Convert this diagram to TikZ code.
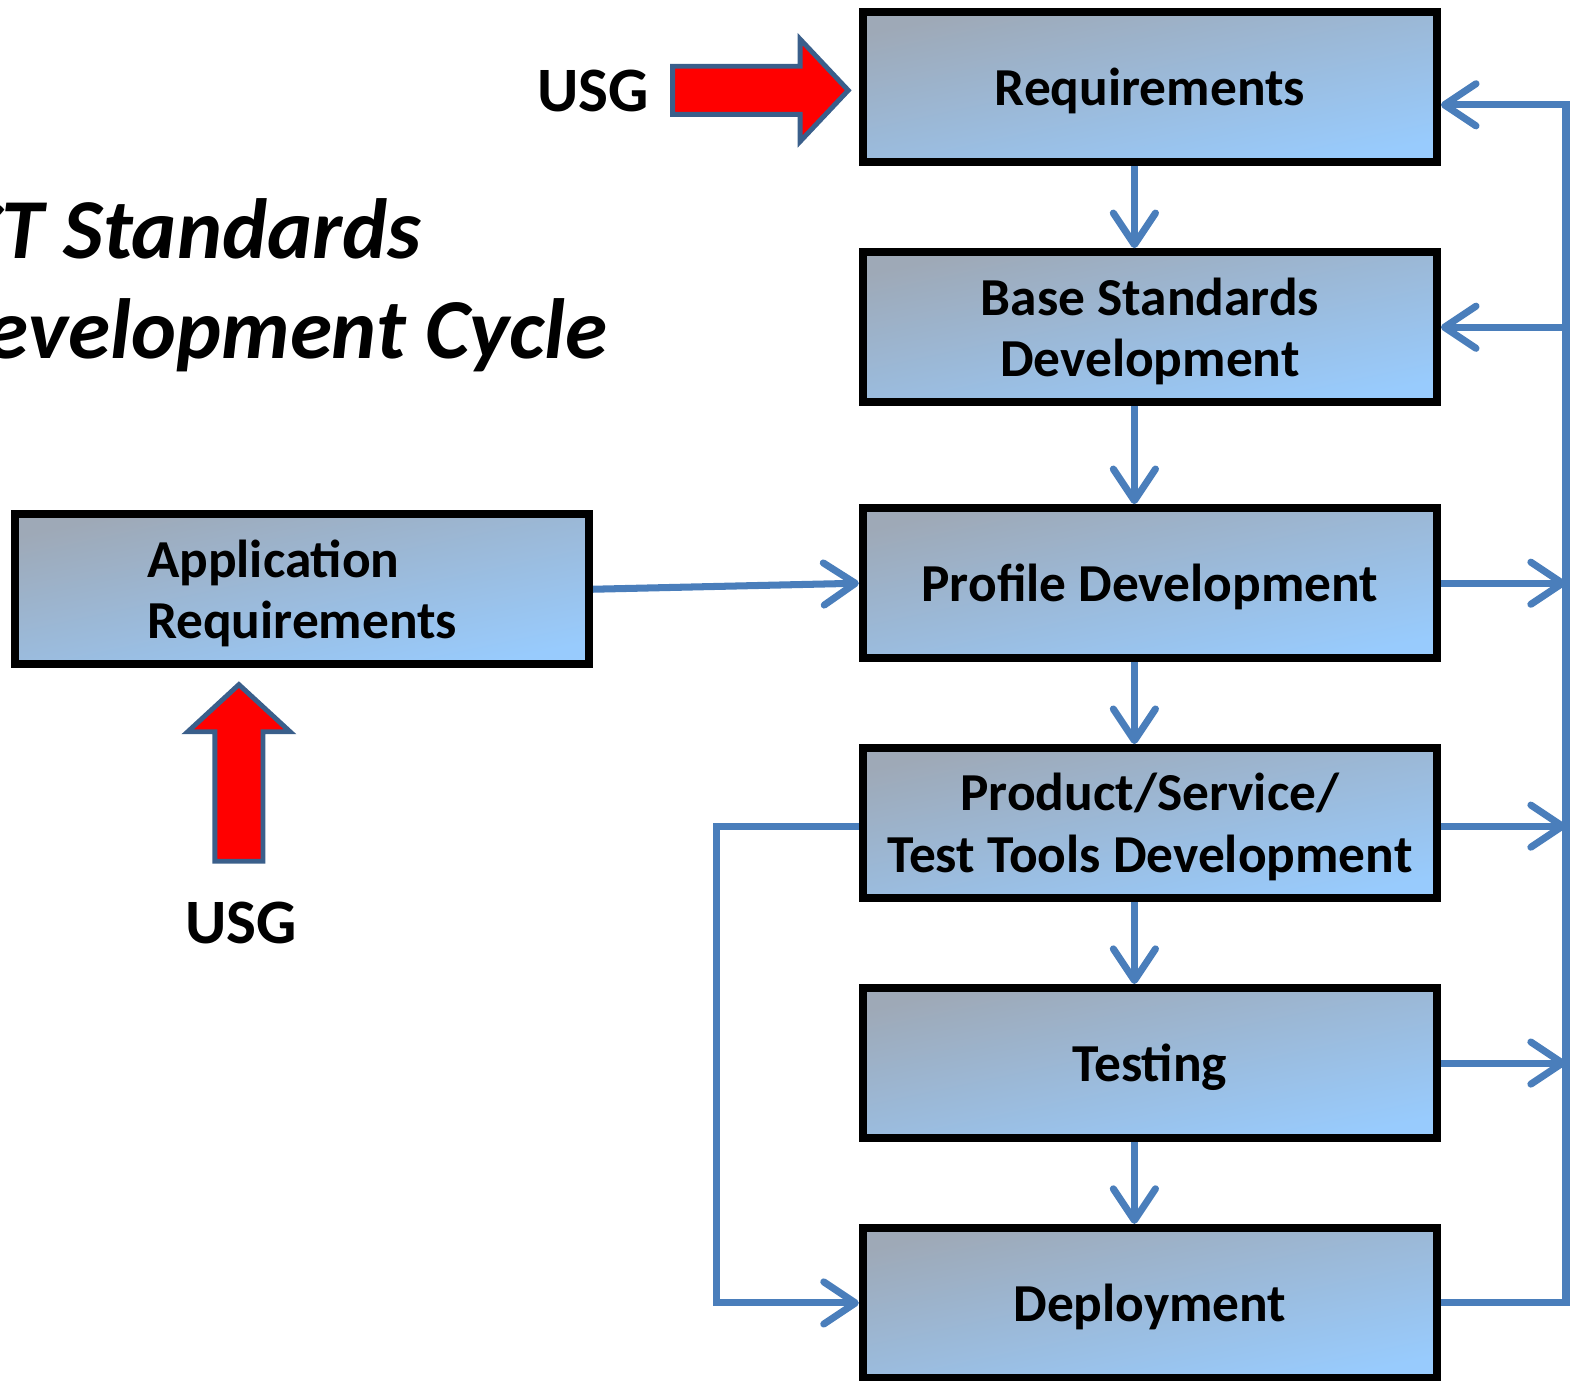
\documentclass[tikz,border=0pt]{standalone}
\usepackage{fontspec}
\setmainfont{Carlito}
\usetikzlibrary{arrows.meta}
\definecolor{linkblue}{HTML}{4A7EBB}
\definecolor{usgedge}{HTML}{3A5F8B}
\definecolor{boxgray}{HTML}{9EA9B7}
\definecolor{boxblue}{HTML}{98CBFD}
\tikzset{
  stage/.style={draw=black, line width=2.3pt, top color=boxgray, bottom color=boxblue, shading angle=12,
    minimum width=5.74cm, minimum height=1.50cm, inner sep=0pt, align=center, text depth=0pt,
    font=\fontsize{15.2}{17.6}\selectfont\bfseries},
  link/.style={draw=linkblue, line width=2pt, -{Straight Barb[length=9pt,width=12pt,round]}},
  usg/.style={inner sep=0pt, font=\fontsize{18}{20}\selectfont\bfseries},
  usgarrow/.style={draw=usgedge, line width=1.4pt, fill=red, line join=miter},
  heading/.style={inner sep=0pt, font=\fontsize{24.3}{28}\selectfont\bfseries\itshape}
}
\begin{document}
\begin{tikzpicture}[x=0.010038cm, y=-0.010038cm]
\useasboundingbox (0,0) rectangle (1568,1375);
\begin{scope}
\clip (0,0) rectangle (1568,1375);
\node[heading, anchor=base east] (headA) at (420,258) {ICT Standards};
\node[heading, anchor=base east] (headB) at (606,357) {Development Cycle};
\end{scope}
\node[stage] (req) at (1145.5,86.5) {Requirements};
\node[stage] (base) at (1145.5,326) {Base Standards\\Development};
\node[stage] (prof) at (1145.5,581) {Profile Development};
\node[stage] (prod) at (1145.5,820) {Product/Service/\\Test Tools Development};
\node[stage] (test) at (1145.5,1059) {Testing};
\node[stage] (dep) at (1145.5,1298) {Deployment};
\node[stage, align=left] (app) at (301,587) {Application\\Requirements};
\node[usg] (usgA) at (591,91) {USG};
\node[usg] (usgB) at (240,919) {USG};
\coordinate (rail) at (1560,0);
\draw[usgarrow] (670,66) -- (797,66) -- (797,39) -- (845,90) -- (797,141) -- (797,114) -- (670,114) -- cycle;
\draw[usgarrow] (214,858) -- (214,729) -- (187,729) -- (238,682) -- (289,729) -- (262,729) -- (262,858) -- cycle;
\draw[link] ([xshift=-0.155cm]req.south) -- ([xshift=-0.155cm]base.north);
\draw[link] ([xshift=-0.155cm]base.south) -- ([xshift=-0.155cm]prof.north);
\draw[link] ([xshift=-0.155cm]prof.south) -- ([xshift=-0.155cm]prod.north);
\draw[link] ([xshift=-0.155cm]prod.south) -- ([xshift=-0.155cm]test.north);
\draw[link] ([xshift=-0.155cm]test.south) -- ([xshift=-0.155cm]dep.north);
\draw[link] (app.east) -- (prof.west);
\draw[link] (dep.east) -- (dep.east -| rail) |- ([yshift=-0.18cm]req.east);
\draw[link] (base.east -| rail) -- (base.east);
\draw[link] (prof.east) -- (prof.east -| rail);
\draw[link] ([yshift=-0.03cm]prod.east) -- ([yshift=-0.03cm]prod.east -| rail);
\draw[link] (test.east) -- (test.east -| rail);
\draw[link] ([yshift=-0.03cm]prod.west) -- ++(-142,0) |- (dep.west);
\end{tikzpicture}
\end{document}
